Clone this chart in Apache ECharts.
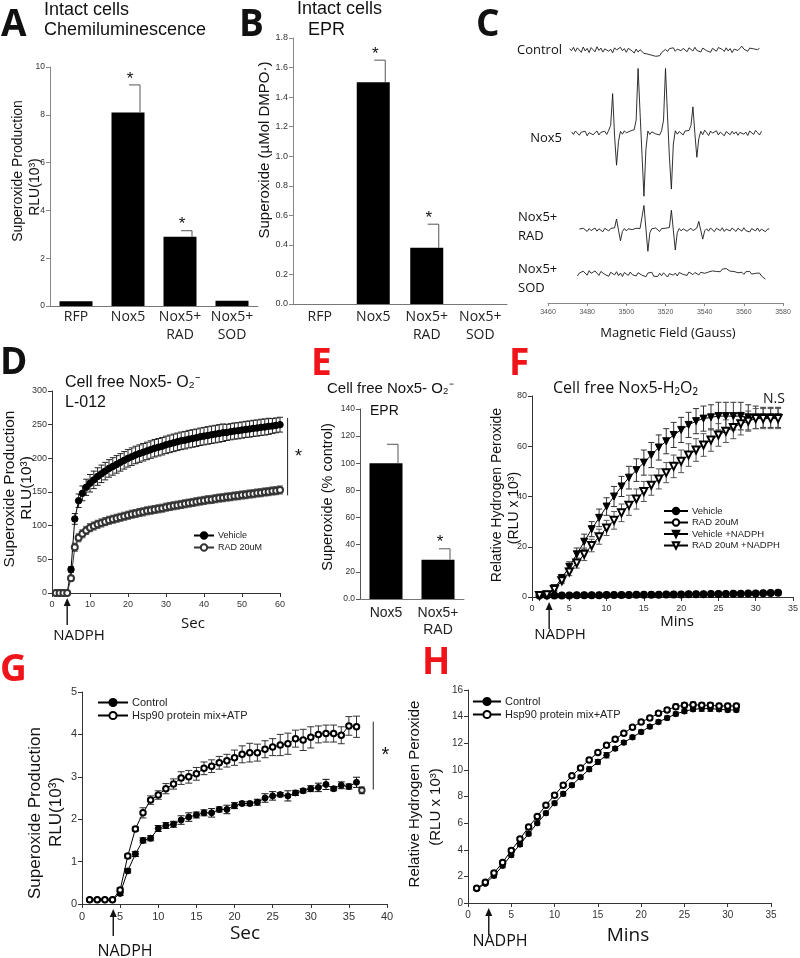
<!DOCTYPE html>
<html><head><meta charset="utf-8">
<script src="https://cdn.jsdelivr.net/npm/echarts@6/dist/echarts.min.js"></script>
<style>html,body{margin:0;padding:0;background:#fff}#c{width:800px;height:958px}</style>
</head><body><div id="c"></div><script>
// ---------------- DATA ----------------
// Panel A
const catsA = ['RFP', 'Nox5', 'Nox5+\nRAD', 'Nox5+\nSOD'];
const valsA = [0.2, 8.1, 2.9, 0.22];
const errA = [0, 1.15, 0.25, 0];
const starA = [0, 1, 1, 0];
// Panel B
const catsB = ['RFP', 'Nox5', 'Nox5+\nRAD', 'Nox5+\nSOD'];
const valsB = [0, 1.5, 0.38, 0];
const errB = [0, 0.15, 0.16, 0];
const starB = [0, 1, 1, 0];
// Panel C (EPR spectra, deviation from each trace's baseline; field step 1 G)
const ctrlStartC = 3471;
const ctrlC = [0.5,-0.3,1.0,-0.6,0.8,0.2,-0.9,1.1,-0.4,0.6,-1.0,0.9,0.1,-0.7,1.2,-0.2,0.7,-0.8,0.4,1.0,
  -0.5,0.3,-1.1,0.8,0.0,-0.6,1.0,-0.3,0.5,-0.9,0.6,0.2,-0.4,-1.2,0.3,-0.8,0.1,-0.5,-1.3,-0.9,
  -1.6,-1.2,-2.0,-1.5,-2.4,-1.8,-2.2,-1.0,-0.4,0.2,-0.6,0.5,-0.2,0.8,-0.5,0.3,0.9,-0.3,0.6,0.1,
  -0.7,0.8,0.2,-0.4,1.0,-0.2,0.5,-0.8,0.7,1.2,-0.3,0.4,-0.9,0.6,0.1,-0.5,0.9,1.3,0.2,-0.6,
  0.8,-0.4,0.5,-1.0,0.3,0.9,-0.2,0.6,1.4,0.3,1.0,-0.5,0.7,1.2,0.4,0.9,0.1,0.6];
const nox5StartC = 3472;
const nox5C = [0.6,-0.4,0.9,0.2,-0.7,0.5,-0.2,0.8,-0.9,0.3,0.7,-0.5,0.1,0.9,-0.6,0.4,-0.1,0.8,-0.4,1.2,
  3,15,-1,-12,-3,
  0.8,-0.3,1.0,0.2,-0.5,0.9,0.4,1.4,
  5,24.5,8,-8,-23.7,-6,
  0.9,-0.4,0.6,1.1,-0.2,0.5,-0.6,1.0,
  5,24.5,7,-9,-21,-4,
  1.0,-0.3,0.7,0.2,-0.6,0.9,0.3,1.1,
  3,10,0,-9,-2,
  0.8,-0.5,1.2,0.3,-0.8,0.9,0.1,-0.4,1.0,-0.6,0.5,0.2,-0.9,0.7,0.3,-0.5,0.8,-0.2,0.6,-0.7,0.4,1.0,-0.3,0.5,-0.8,0.9,0.2,-0.4,1.1,0.3,-0.6,0.8];
const radStartC = 3476;
const radC = [0.4,-0.3,0.7,0.1,-0.5,0.6,-0.2,0.3,0.8,-0.4,0.5,0.0,-0.6,0.7,0.2,-0.3,0.6,-0.1,0.9,
  4.2,0,-4,-0.5,
  0.6,-0.3,0.5,0.9,0.2,-0.4,0.7,0.3,0.6,1.2,
  9.3,0.5,-8,-1,
  0.5,-0.2,0.8,0.3,-0.5,0.6,0.1,0.7,0.4,1.0,
  7.5,0,-7.5,-1,
  0.6,-0.3,0.5,0.9,-0.4,0.2,0.7,-0.2,0.4,0.8,
  3.3,0,-3.4,-0.3,
  0.5,-0.4,0.8,0.2,-0.6,0.7,0.3,-0.2,0.9,-0.5,0.4,0.6,-0.3,0.8,0.1,-0.5,0.7,0.3,-0.4,0.9,-0.2,0.5,-0.7,0.6,0.2,-0.3,0.8,-0.5,0.4,1.0,-0.6,0.3,0.5];
const sodStartC = 3475;
const sodC = [-0.8,0.3,-0.2,1.0,0.4,-0.5,1.2,0.2,-0.3,1.1,0.5,-0.6,0.9,1.3,-0.2,0.4,-0.9,0.6,0.1,-0.4,
  0.8,-0.7,0.3,-1.0,0.5,0.0,-0.6,0.7,-0.3,0.2,-0.8,0.4,0.9,-0.5,0.1,-1.1,0.3,-0.4,0.6,-0.9,
  -0.2,-1.0,0.2,-0.7,0.4,-0.3,-1.2,0.1,0.6,-0.5,0.3,-0.8,0.5,0.9,-0.2,0.4,-0.6,0.7,0.2,-0.3,
  0.5,0.8,-0.4,0.6,1.0,0.2,-0.2,0.7,0.4,1.1,0.6,0.9,1.5,0.8,1.8,1.2,2.0,1.4,1.0,1.6,
  0.9,1.3,0.4,1.0,0.6,-0.2,0.8,0.3,0.9,-0.1,0.5,0.2,-0.4,0.3,-0.8,-1.4,-2.0];
// Panel D
const tD = [1,2,3,4,5,6,7,8,9,10,11,12,13,14,15,16,17,18,19,20,21,22,23,24,25,26,27,28,29,30,31,32,33,34,35,36,37,38,39,40,41,42,43,44,45,46,47,48,49,50,51,52,53,54,55,56,57,58,59,60];
const vehD = [0,0,0,0,35,110,137,148,157,163,168,173,177,181,185,188,191,194,197,200,202.5,205,207,209,211,213,215,216.5,218,220,221.5,223,224.5,226,227,228.5,229.5,230.5,232,233,234,235,236,237,238,238.5,239.5,240.5,241,242,243,243.5,244.5,245,246,246.5,247.5,248,249,250];
const errVehD = [0,0,0,0,4,8,10,11,12,13,13,13,13,13,13,13,13,13,13,13,13,13,13,13,13,13,13,13,13,13,13,13,13,13,13,13,13,13,13,13,13,13,13,13,13,12,12,12,12,12,12,12,12,12,12,12,12,11,11,11];
const radD = [0,0,0,0,22,68,82,88,93,97,99.5,102,104,106,108,109.5,111,112.5,114,115.5,117,118,119.5,120.5,122,123,124,125,126,127.5,128.5,129.5,130.5,131.5,132.5,133.5,134.5,135.5,136.5,137.5,138.5,139,140,141,141.5,142.5,143,144,144.5,145.5,146,147,147.5,148.5,149,150,150.5,151.5,152,153];
const errRadD = [0,0,0,0,4,6,6,6,6,6,6,6,6,6,6,6,6,6,6,6,6,6,6,6,6,6,6,6,6,6,6,6,6,6,6,6,6,6,6,6,6,6,6,6,6,6,6,6,6,6,6,6,6,6,6,6,6,6,6,6];
// Panel E
const catsE = ['Nox5', 'Nox5+\nRAD'];
const valsE = [100, 29];
const errE = [14, 8];
const starE = [0, 1];
// Panel F
const tF = [1,2,3,4,5,6,7,8,9,10,11,12,13,14,15,16,17,18,19,20,21,22,23,24,25,26,27,28,29,30,31,32,33];
const vehF = [0.7,0.7,0.7,0.7,0.7,0.8,0.8,0.8,0.8,0.9,0.9,0.9,0.9,1.0,1.0,1.0,1.0,1.1,1.1,1.1,1.2,1.2,1.2,1.3,1.3,1.3,1.4,1.4,1.5,1.5,1.6,1.7,1.8];
const radF = [0.6,0.6,0.6,0.6,0.6,0.7,0.7,0.7,0.7,0.8,0.8,0.8,0.8,0.9,0.9,0.9,0.9,1.0,1.0,1.0,1.1,1.1,1.1,1.2,1.2,1.2,1.3,1.3,1.4,1.4,1.5,1.6,1.7];
const vnF = [0.7,1.0,3.5,7.5,12,17,22,27,31.5,36,40,44,47.5,50.5,53.5,56.5,59.5,62,64.5,66.5,68.5,70,71,71.5,72,72,72,72,71.5,71.5,71.5,71.5,71.5];
const errVnF = [0.3,0.3,0.8,1.5,2,2.5,3,3,3.5,3.5,4,4,4.5,4.5,5,5,5,5,5,5,5,5,5,5,5.5,5.5,5.5,5.5,5,4.5,4,4,4];
const rnF = [0.6,0.9,3,6.5,10,13.5,17,20.5,24,27.5,30.5,33.5,36.5,39,42,44.5,47,49.5,52,54,56.5,58.5,60.5,62.5,64.5,66,67.5,69,70,71,71,71,71];
const errRnF = [0.3,0.3,0.8,1.2,1.5,2,2.5,2.5,3,3,3.5,3.5,4,4,4,4,4,4,4.5,4.5,4.5,4.5,4.5,4.5,4.5,4.5,4.5,4.5,4,4,4,4,4];
// Panel G
const tG = [1,2,3,4,5,6,7,8,9,10,11,12,13,14,15,16,17,18,19,20,21,22,23,24,25,26,27,28,29,30,31,32,33,34,35,36];
const ctrlG = [0.1,0.1,0.1,0.1,0.25,0.78,1.18,1.5,1.55,1.78,1.85,1.88,1.98,2.05,2.1,2.15,2.15,2.23,2.23,2.32,2.37,2.37,2.4,2.5,2.55,2.58,2.55,2.62,2.67,2.72,2.75,2.82,2.72,2.8,2.77,2.87];
const errCtrlG = [0.02,0.02,0.02,0.02,0.05,0.05,0.06,0.06,0.06,0.07,0.07,0.07,0.1,0.1,0.07,0.07,0.1,0.06,0.1,0.07,0.05,0.05,0.07,0.1,0.1,0.05,0.12,0.06,0.05,0.07,0.1,0.12,0.05,0.08,0.06,0.12];
const hspG = [0.1,0.1,0.1,0.1,0.33,1.13,1.77,2.15,2.45,2.57,2.72,2.83,2.97,3.0,3.07,3.2,3.25,3.33,3.38,3.45,3.53,3.57,3.57,3.65,3.7,3.75,3.78,3.9,3.87,3.93,4.0,4.02,4.02,3.98,4.2,4.18];
const errHspG = [0.02,0.02,0.02,0.02,0.05,0.05,0.05,0.12,0.1,0.1,0.12,0.12,0.15,0.15,0.15,0.15,0.15,0.15,0.15,0.18,0.2,0.22,0.2,0.2,0.2,0.25,0.25,0.2,0.25,0.25,0.2,0.2,0.2,0.2,0.22,0.25];
const extraTG = [36.7];
const extraG = [2.68];
const errExtraG = [0.08];
// Panel H
const tH = [1,2,3,4,5,6,7,8,9,10,11,12,13,14,15,16,17,18,19,20,21,22,23,24,25,26,27,28,29,30,31];
const ctrlH = [1.05,1.45,2.05,2.8,3.6,4.4,5.2,6.0,6.75,7.5,8.2,8.85,9.45,10.05,10.6,11.1,11.6,12.05,12.45,12.85,13.25,13.6,13.9,14.2,14.4,14.55,14.6,14.6,14.55,14.5,14.5];
const errCtrlH = [0.1,0.12,0.15,0.15,0.15,0.15,0.15,0.15,0.15,0.15,0.15,0.15,0.15,0.18,0.18,0.2,0.15,0.15,0.15,0.15,0.15,0.15,0.15,0.15,0.15,0.15,0.2,0.2,0.15,0.15,0.15];
const hspH = [1.1,1.55,2.25,3.05,3.95,4.8,5.7,6.5,7.35,8.1,8.85,9.55,10.15,10.75,11.3,11.85,12.3,12.75,13.2,13.6,13.9,14.25,14.5,14.75,14.85,14.9,14.85,14.85,14.8,14.8,14.8];
const errHspH = [0.1,0.12,0.15,0.15,0.15,0.15,0.15,0.15,0.15,0.15,0.15,0.15,0.15,0.15,0.15,0.15,0.15,0.15,0.15,0.15,0.15,0.15,0.15,0.2,0.2,0.2,0.2,0.2,0.2,0.2,0.2];

// ---------------- CHART ----------------
const chart = echarts.init(document.getElementById('c'), null, {renderer: 'canvas', width: 800, height: 958});
const SANS = '"Liberation Sans", Arial, sans-serif';
const OPEN = '"Open Sans", "Liberation Sans", sans-serif';
const RED = '#f0141a';

function grid(l, t, w, h) { return {left: l, top: t, width: w, height: h, containLabel: false, outerBoundsMode: 'none'}; }
const grids = [
  grid(50, 67, 208, 239),   // A
  grid(293, 38, 214, 266),  // B
  grid(548, 38, 235, 265),  // C
  grid(52, 391, 228, 202),  // D
  grid(360, 409, 104, 190), // E
  grid(532, 396, 261, 201), // F
  grid(82, 692, 305, 212),  // G
  grid(468, 690, 303, 213)  // H
];

function vAxis(gi, min, max, interval, fs, col, extra) {
  return Object.assign({
    type: 'value', gridIndex: gi, min: min, max: max, interval: interval,
    axisLine: {show: true, lineStyle: {color: col, width: 1}},
    axisTick: {show: true, length: 4, inside: false, lineStyle: {color: col}},
    axisLabel: {show: true, fontSize: fs, color: '#333', fontFamily: SANS, margin: 5, formatter: v => String(v)},
    splitLine: {show: false}
  }, extra || {});
}
function cAxis(gi, cats, margin, lh, fam) {
  return {
    type: 'category', gridIndex: gi, data: cats,
    axisLine: {show: true, lineStyle: {color: '#777'}},
    axisTick: {show: false},
    axisLabel: {fontSize: 14, color: '#222', fontFamily: fam || OPEN, margin: margin, lineHeight: lh, interval: 0}
  };
}
const lab = (fs, m) => ({fontSize: fs, color: '#333', fontFamily: SANS, margin: m, formatter: v => String(v)});

const xAxes = [
  cAxis(0, catsA, 2, 18),
  cAxis(1, catsB, 4, 18),
  vAxis(2, 3460, 3580, 20, 7, '#888', {axisTick: {show: true, length: 3, lineStyle: {color: '#888'}}, axisLabel: {fontSize: 7, color: '#555', fontFamily: SANS, margin: 6, formatter: v => String(v)}}),
  vAxis(3, 0, 60, 10, 9, '#333', {axisLabel: lab(9, 7)}),
  cAxis(4, catsE, 6, 17, SANS),
  vAxis(5, 0, 35, 5, 9, '#333', {axisLabel: lab(9, 7)}),
  vAxis(6, 0, 40, 5, 11, '#333', {axisLabel: lab(11, 7)}),
  vAxis(7, 0, 35, 5, 10, '#333', {axisLabel: lab(10, 7)})
];
const yAxes = [
  vAxis(0, 0, 10, 2, 8.5, '#888'),
  vAxis(1, 0, 1.8, 0.2, 9, '#888', {axisLabel: {fontSize: 9, color: '#333', fontFamily: SANS, margin: 5, formatter: v => v.toFixed(1)}}),
  {type: 'value', gridIndex: 2, min: 0, max: 100, show: false},
  vAxis(3, 0, 300, 50, 9, '#333'),
  vAxis(4, 0, 140, 20, 8.5, '#555', {axisLabel: {fontSize: 8.5, color: '#333', fontFamily: SANS, margin: 5, formatter: v => v === 0 ? '0.0' : String(v)}}),
  vAxis(5, 0, 80, 20, 9, '#333'),
  vAxis(6, 0, 5, 1, 11, '#333'),
  vAxis(7, 0, 16, 2, 10, '#333')
];

function barSeries(gi, vals) {
  return {type: 'bar', xAxisIndex: gi, yAxisIndex: gi, data: vals, barWidth: 33,
    itemStyle: {color: '#000'}, silent: true, z: 2};
}
function barErr(gi, vals, errs, stars) {
  return {type: 'custom', xAxisIndex: gi, yAxisIndex: gi, z: 5, silent: true,
    data: vals.map((v, i) => [i, v, errs[i], stars[i]]),
    encode: {x: 0, y: 1},
    renderItem: (p, api) => {
      const i = api.value(0), v = api.value(1), e = api.value(2), s = api.value(3);
      const b = api.coord([i, v]); const t = api.coord([i, v + e]);
      const off = 12; const ch = [];
      if (e > 0) {
        ch.push({type: 'line', shape: {x1: b[0] + off, y1: b[1], x2: b[0] + off, y2: t[1]}, style: {stroke: '#555', lineWidth: 1}});
        ch.push({type: 'line', shape: {x1: b[0] + 1, y1: t[1], x2: b[0] + off, y2: t[1]}, style: {stroke: '#555', lineWidth: 1}});
      }
      if (s) ch.push({type: 'text', style: {text: '*', x: b[0] + 2, y: t[1] - 6, font: '17px ' + SANS, fill: '#111', textAlign: 'center', align: 'center', textVerticalAlign: 'middle', verticalAlign: 'middle'}});
      return {type: 'group', children: ch};
    }};
}
function lineErr(gi, xs, ys, es, w, color) {
  return {type: 'custom', xAxisIndex: gi, yAxisIndex: gi, z: 2, silent: true,
    data: xs.map((x, i) => [x, ys[i] - es[i], ys[i] + es[i]]),
    encode: {x: 0, y: [1, 2]},
    renderItem: (p, api) => {
      const lo = api.coord([api.value(0), api.value(1)]), hi = api.coord([api.value(0), api.value(2)]);
      const st = {stroke: color, lineWidth: 1};
      return {type: 'group', children: [
        {type: 'line', shape: {x1: lo[0], y1: lo[1], x2: hi[0], y2: hi[1]}, style: st},
        {type: 'line', shape: {x1: hi[0] - w, y1: hi[1], x2: hi[0] + w, y2: hi[1]}, style: st},
        {type: 'line', shape: {x1: lo[0] - w, y1: lo[1], x2: lo[0] + w, y2: lo[1]}, style: st}
      ]};
    }};
}
function lineS(name, gi, xs, ys, symbol, size, rot, col, bw) {
  return {type: 'line', name: name, xAxisIndex: gi, yAxisIndex: gi,
    data: xs.map((x, i) => [x, ys[i]]),
    symbol: symbol, symbolSize: size, symbolRotate: rot || 0, showSymbol: true,
    lineStyle: {color: col || '#000', width: 1},
    itemStyle: {color: col || '#000', borderColor: col || '#000', borderWidth: bw || 1},
    silent: true, z: 3};
}
function spec(gi, start, devs, offset) {
  return {type: 'line', xAxisIndex: gi, yAxisIndex: gi, symbol: 'none', silent: true,
    data: devs.map((d, i) => [start + i, offset + d]),
    lineStyle: {color: '#1a1a1a', width: 0.9}};
}

const series = [
  barSeries(0, valsA), barErr(0, valsA, errA, starA),
  barSeries(1, valsB), barErr(1, valsB, errB, starB),
  spec(2, ctrlStartC, ctrlC, 95.5),
  spec(2, nox5StartC, nox5C, 64),
  spec(2, radStartC, radC, 27.5),
  spec(2, sodStartC, sodC, 11),
  lineErr(3, tD, vehD, errVehD, 3, '#222'),
  lineErr(3, tD, radD, errRadD, 3, '#555'),
  lineS('Vehicle', 3, tD, vehD, 'circle', 6.5),
  lineS('RAD 20uM', 3, tD, radD, 'emptyCircle', 6, 0, '#333'),
  barSeries(4, valsE), barErr(4, valsE, errE, starE),
  lineErr(5, tF, vnF, errVnF, 3, '#333'),
  lineErr(5, tF, rnF, errRnF, 3, '#555'),
  lineS('RAD 20uM\u200b', 5, tF, radF, 'emptyCircle', 6),
  lineS('Vehicle\u200b', 5, tF, vehF, 'circle', 6),
  lineS('Vehicle +NADPH', 5, tF, vnF, 'triangle', 7, 180),
  lineS('RAD 20uM +NADPH', 5, tF, rnF, 'emptyTriangle', 7, 180),
  lineErr(6, tG, ctrlG, errCtrlG, 3.5, '#111'),
  lineErr(6, tG, hspG, errHspG, 3.5, '#333'),
  lineErr(6, extraTG, extraG, errExtraG, 3, '#333'),
  lineS('Control', 6, tG, ctrlG, 'circle', 6),
  lineS('Hsp90 protein mix+ATP', 6, tG, hspG, 'emptyCircle', 5.5, 0, '#000', 0.8),
  {type: 'scatter', xAxisIndex: 6, yAxisIndex: 6, data: extraTG.map((x, i) => [x, extraG[i]]), symbol: 'emptyCircle', symbolSize: 5.5, itemStyle: {color: '#000', borderColor: '#000', borderWidth: 0.8}, silent: true, z: 3},
  lineErr(7, tH, ctrlH, errCtrlH, 3, '#111'),
  lineErr(7, tH, hspH, errHspH, 3, '#333'),
  lineS('Control\u200b', 7, tH, ctrlH, 'circle', 5.5),
  lineS('Hsp90 protein mix+ATP\u200b', 7, tH, hspH, 'emptyCircle', 5.5, 0, '#000', 0.8)
];

function legend(names, left, top, iw, ih, gap, fs) {
  return {data: names, left: left, top: top, orient: 'vertical', itemWidth: iw, itemHeight: ih, itemGap: gap,
    padding: 0, selectedMode: false, formatter: n => n.replace('\u200b', ''),
    textStyle: {fontSize: fs, fontFamily: SANS, color: '#222', padding: [0, 0, 0, -1]}};
}

chart.setOption({
  animation: false,
  backgroundColor: '#fff',
  grid: grids, xAxis: xAxes, yAxis: yAxes, series: series,
  legend: [
    legend(['Vehicle', 'RAD 20uM'], 193, 531, 20, 8, 3, 9),
    legend(['Vehicle\u200b', 'RAD 20uM\u200b', 'Vehicle +NADPH', 'RAD 20uM +NADPH'], 663, 506, 24, 8, 1.5, 9.5),
    legend(['Control', 'Hsp90 protein mix+ATP'], 97, 697, 30, 9, 2, 11),
    legend(['Control\u200b', 'Hsp90 protein mix+ATP\u200b'], 472, 696, 28, 9, 2, 11)
  ]
});

// ---------------- ANNOTATIONS ----------------
function T(text, x, y, font, opt) {
  opt = opt || {};
  const el = {type: 'text', x: x, y: y, silent: true,
    style: {text: text, font: font, fill: opt.fill || '#111',
      textAlign: opt.align || 'left', align: opt.align || 'left',
      textVerticalAlign: 'middle', verticalAlign: 'middle'}};
  if (opt.rot) el.rotation = opt.rot;
  return el;
}
const R90 = Math.PI / 2;
const P = (gi, v) => chart.convertToPixel({gridIndex: gi}, v);
function arrow(gi, xv) {
  const p = P(gi, [xv, 0]);
  const tip = p[1] + 5, end = p[1] + 32;
  return [
    {type: 'line', silent: true, shape: {x1: p[0], y1: tip + 6, x2: p[0], y2: end}, style: {stroke: '#111', lineWidth: 1.4}},
    {type: 'polygon', silent: true, shape: {points: [[p[0], tip], [p[0] - 3.5, tip + 8], [p[0] + 3.5, tip + 8]]}, style: {fill: '#111'}}
  ];
}
function sig(gi, xv, y1, y2, sx, sy, fs) {
  const a = P(gi, [xv, y1]), b = P(gi, [xv, y2]);
  return [
    {type: 'line', silent: true, shape: {x1: a[0], y1: a[1], x2: b[0], y2: b[1]}, style: {stroke: '#222', lineWidth: 1}},
    T('*', a[0] + sx, (a[1] + b[1]) / 2 + sy, fs + 'px ' + SANS, {align: 'center'})
  ];
}
const LET = 'bold 37px ' + OPEN;
const g = [
  T('A', 1, 25, LET), T('B', 239, 25, LET), T('C', 476, 25, LET), T('D', 0, 363, LET),
  T('E', 311, 364, LET, {fill: RED}), T('F', 509, 364, LET, {fill: RED}),
  T('G', 0, 670, LET, {fill: RED}), T('H', 422, 663, LET, {fill: RED}),
  T('Intact cells', 44, 10, '18px ' + SANS), T('Chemiluminescence', 44, 30.5, '18px ' + SANS),
  T('Intact cells', 297, 9, '18px ' + SANS), T('EPR', 308, 30.5, '18px ' + SANS),
  T('Control', 562, 50, '13px ' + OPEN, {align: 'right'}),
  T('Nox5', 562, 138, '13px ' + OPEN, {align: 'right'}),
  T('Nox5+', 518, 217, '13px ' + OPEN), T('RAD', 518, 236, '13px ' + OPEN),
  T('Nox5+', 518, 269, '13px ' + OPEN), T('SOD', 518, 288, '13px ' + OPEN),
  T('Magnetic Field (Gauss)', 668, 333, '13px ' + OPEN, {align: 'center'}),
  T('Cell free Nox5- O\u2082\u207B', 65, 383, '16px ' + SANS), T('L-012', 65, 403, '16px ' + SANS),
  T('Cell free Nox5- O\u2082\u207B', 327, 389, '15px ' + SANS), T('EPR', 370, 411, '14px ' + SANS),
  T('Cell free Nox5-H\u2082O\u2082', 553, 388, '16px ' + OPEN), T('N.S', 763, 399, '14px ' + OPEN),
  T('Sec', 193, 624, '15px ' + OPEN, {align: 'center'}), T('NADPH', 79, 636, '15px ' + OPEN, {align: 'center'}),
  T('Mins', 677, 622, '15px ' + OPEN, {align: 'center'}), T('NADPH', 560, 635, '15px ' + OPEN, {align: 'center'}),
  T('Sec', 245, 934, '19px ' + OPEN, {align: 'center'}), T('NADPH', 125, 951, '16px ' + OPEN, {align: 'center'}),
  T('Mins', 628, 936, '19px ' + OPEN, {align: 'center'}), T('NADPH', 500, 941, '16px ' + OPEN, {align: 'center'}),
  // y axis names
  T('Superoxide Production', 18, 171, '14px ' + SANS, {align: 'center', rot: R90}),
  T('RLU(10\u00B3)', 35, 187, '14px ' + SANS, {align: 'center', rot: R90}),
  T('Superoxide (\u00B5Mol DMPO\u00B7)', 265, 150, '15px ' + SANS, {align: 'center', rot: R90}),
  T('Superoxide Production', 10, 489, '15.5px ' + SANS, {align: 'center', rot: R90}),
  T('RLU(10\u00B3)', 27, 488, '15.5px ' + SANS, {align: 'center', rot: R90}),
  T('Superoxide (% control)', 328, 497, '14.5px ' + SANS, {align: 'center', rot: R90}),
  T('Relative Hydrogen Peroxide', 497, 495, '14px ' + SANS, {align: 'center', rot: R90}),
  T('(RLU x 10\u00B3)', 514, 508, '14px ' + SANS, {align: 'center', rot: R90}),
  T('Superoxide Production', 35, 813, '17px ' + SANS, {align: 'center', rot: R90}),
  T('RLU(10\u00B3)', 56, 812, '17px ' + SANS, {align: 'center', rot: R90}),
  T('Relative Hydrogen Peroxide', 415, 794, '15px ' + SANS, {align: 'center', rot: R90}),
  T('(RLU x 10\u00B3)', 436, 807, '15px ' + SANS, {align: 'center', rot: R90})
].concat(arrow(3, 4), arrow(5, 2.3), arrow(6, 4.1), arrow(7, 2.4),
  sig(3, 62, 260, 145, 11, 0, 18), sig(6, 38.2, 4.3, 2.7, 12, 0, 20));
chart.setOption({graphic: g});
</script></body></html>
